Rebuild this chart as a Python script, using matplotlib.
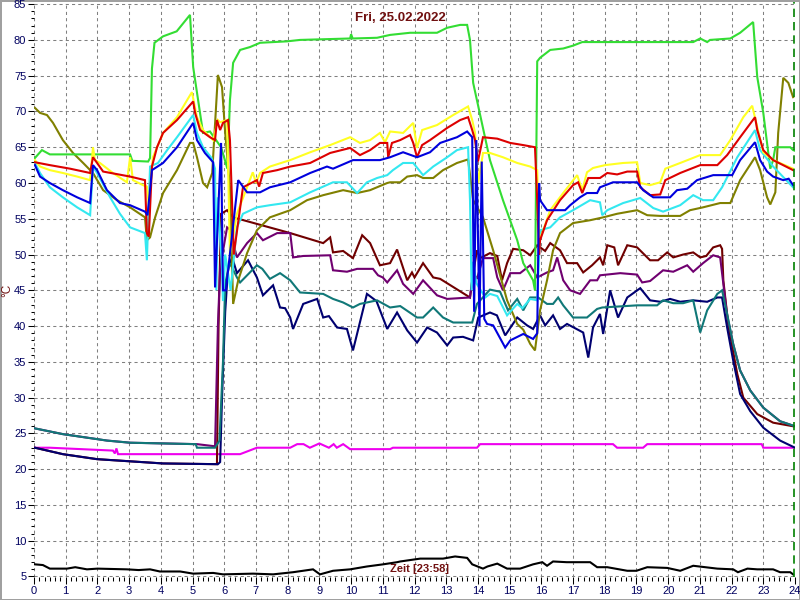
import matplotlib
matplotlib.use('Agg')
import matplotlib.pyplot as plt
from matplotlib.ticker import MultipleLocator

# Messwerte (Stunde, °C) je Fühler
green = [(0.03, 63.5), (0.25, 64.6), (0.5, 64.0), (3.03, 64.0), (3.1, 63.1), (3.6, 63.0), (3.66, 63.5),
         (3.72, 76.0), (3.8, 79.6), (4.07, 80.5), (4.5, 81.2), (4.92, 83.5), (5.02, 76.2), (5.3, 67.9),
         (5.33, 67.0), (5.55, 67.2), (5.9, 65.0), (6.1, 62.0), (6.18, 71.6), (6.28, 76.8), (6.5, 78.6),
         (6.81, 79.0), (7.13, 79.6), (7.98, 79.8), (8.39, 80.0), (9.97, 80.2), (10.0, 80.8), (10.05, 80.2),
         (10.82, 80.3), (11.23, 80.7), (11.86, 81.0), (12.18, 81.0), (12.71, 81.0), (13.03, 81.7),
         (13.44, 82.1), (13.66, 82.1), (13.75, 80.0), (13.85, 74.0), (14.38, 63.2), (14.79, 57.6),
         (15.24, 52.0), (15.43, 48.8), (15.74, 46.4), (15.8, 45.0), (15.87, 77.0), (15.96, 77.5),
         (16.28, 78.6), (16.69, 78.8), (17.0, 79.2), (17.29, 79.7), (20.79, 79.7), (21.01, 80.2),
         (21.23, 79.7), (21.32, 80.0), (21.96, 80.2), (22.27, 81.0), (22.68, 82.5), (22.81, 74.8),
         (23.0, 69.8), (23.22, 62.0), (23.31, 63.2), (23.38, 65.0), (23.85, 65.0), (23.94, 64.6), (24.0, 64.5)]

yellow = [(0.03, 63.2), (0.19, 62.3), (0.5, 61.8), (0.91, 61.4), (1.36, 60.9), (1.77, 60.4), (1.86, 65.0),
          (1.92, 63.2), (2.08, 62.8), (2.49, 61.4), (2.93, 60.1), (3.03, 63.6), (3.12, 60.4), (3.44, 59.7),
          (3.56, 59.5), (3.62, 57.0), (3.75, 63.6), (4.07, 67.0), (4.51, 69.2), (4.83, 71.6), (4.98, 72.7),
          (5.14, 69.2), (5.33, 67.4), (5.65, 66.0), (5.8, 68.8), (5.87, 68.5), (6.09, 68.8), (6.18, 50.0),
          (6.4, 55.7), (6.72, 59.4), (6.9, 61.5), (7.0, 60.0), (7.13, 61.4), (7.44, 62.3), (8.08, 63.2),
          (8.71, 64.3), (9.34, 65.3), (9.97, 66.4), (10.28, 65.6), (10.6, 66.0), (10.91, 67.0), (11.07, 65.7),
          (11.23, 67.2), (11.64, 67.0), (11.96, 68.4), (12.08, 64.9), (12.24, 67.4), (12.71, 68.1),
          (13.22, 69.5), (13.69, 70.7), (13.82, 68.8), (13.91, 67.0), (14.01, 60.0), (14.16, 64.2),
          (14.38, 64.2), (14.79, 63.6), (15.24, 62.8), (15.65, 62.3), (15.87, 61.8), (15.93, 52.0),
          (16.06, 53.4), (16.28, 56.2), (16.69, 58.6), (17.13, 61.1), (17.29, 59.0), (17.44, 61.5),
          (17.63, 62.1), (18.01, 62.5), (18.58, 62.8), (19.02, 62.9), (19.12, 60.0), (19.43, 59.7),
          (19.75, 60.1), (19.91, 62.0), (20.38, 62.8), (21.01, 63.9), (21.64, 63.9), (21.96, 66.0),
          (22.37, 69.2), (22.65, 70.8), (22.81, 67.8), (23.0, 64.3), (23.31, 63.2), (23.94, 62.0)]

red = [(0.03, 62.9), (0.5, 62.5), (1.14, 62.0), (1.77, 61.4), (1.86, 63.6), (1.99, 62.8), (2.18, 61.6),
       (3.03, 60.9), (3.5, 60.4), (3.56, 53.0), (3.62, 52.5), (3.72, 62.3), (3.88, 65.0), (4.07, 67.0),
       (4.51, 68.8), (5.02, 71.4), (5.08, 69.8), (5.24, 67.4), (5.55, 66.4), (5.71, 66.0), (5.77, 68.8),
       (5.87, 67.4), (5.96, 68.4), (6.12, 68.8), (6.18, 66.0), (6.3, 50.0), (6.59, 59.4), (7.03, 60.4),
       (7.1, 59.5), (7.22, 61.4), (7.67, 61.8), (8.08, 62.3), (8.71, 62.8), (9.34, 64.2), (9.97, 64.9),
       (10.28, 63.9), (10.6, 64.6), (10.91, 65.6), (11.14, 65.6), (11.17, 63.6), (11.29, 65.6), (11.55, 66.0),
       (11.86, 66.7), (11.96, 65.6), (12.08, 63.6), (12.24, 65.3), (12.49, 66.0), (13.03, 67.7),
       (13.44, 68.8), (13.69, 69.2), (13.82, 67.4), (13.91, 66.0), (14.0, 63.0), (14.16, 66.4),
       (14.61, 66.2), (15.02, 65.6), (15.43, 65.3), (15.8, 65.0), (15.87, 57.6), (15.93, 50.0),
       (15.96, 52.0), (16.18, 54.8), (16.59, 57.6), (17.0, 59.7), (17.16, 60.1), (17.29, 58.6),
       (17.48, 60.7), (17.85, 60.7), (18.08, 61.4), (18.39, 61.2), (18.71, 61.6), (19.02, 61.6),
       (19.12, 59.4), (19.43, 58.3), (19.75, 58.4), (19.91, 60.4), (20.38, 61.4), (21.01, 62.5),
       (21.55, 62.5), (21.86, 63.9), (22.27, 66.4), (22.74, 69.2), (22.81, 67.4), (23.0, 64.6),
       (23.31, 63.2), (23.94, 61.8)]

cyan = [(0.03, 62.8), (0.19, 61.4), (0.5, 59.4), (0.91, 58.0), (1.36, 56.6), (1.77, 55.5), (1.86, 62.3),
        (1.99, 61.4), (2.4, 58.0), (2.71, 55.7), (3.03, 53.8), (3.5, 53.0), (3.56, 49.2), (3.66, 62.3),
        (3.91, 62.8), (4.2, 64.6), (4.51, 66.4), (5.02, 69.5), (5.14, 67.0), (5.33, 65.0), (5.6, 63.5),
        (5.71, 62.0), (5.75, 45.0), (5.8, 58.0), (5.93, 48.0), (5.96, 43.5), (6.03, 50.0), (6.2, 45.0),
        (6.4, 53.8), (6.59, 55.7), (7.03, 56.6), (7.44, 56.9), (8.08, 57.3), (8.71, 58.7), (9.43, 60.1),
        (9.87, 60.1), (10.19, 58.6), (10.5, 60.1), (10.82, 60.7), (11.14, 61.1), (11.32, 61.8),
        (11.64, 62.8), (11.96, 62.8), (12.27, 61.1), (12.59, 62.3), (13.03, 63.6), (13.34, 64.6),
        (13.69, 65.0), (13.75, 57.6), (13.8, 45.0), (13.85, 49.0), (13.95, 46.0), (14.23, 44.0),
        (14.38, 44.5), (14.61, 44.2), (14.92, 41.5), (15.24, 43.1), (15.4, 42.5), (15.65, 43.8),
        (15.87, 43.6), (15.96, 53.4), (16.28, 53.8), (16.59, 55.2), (17.0, 56.2), (17.54, 57.6),
        (17.85, 57.3), (17.92, 55.5), (18.08, 56.2), (18.58, 57.2), (19.12, 57.9), (19.53, 56.5),
        (19.84, 56.0), (20.38, 56.9), (20.79, 58.3), (21.1, 57.6), (21.42, 57.6), (21.7, 59.4),
        (22.18, 63.6), (22.74, 67.4), (22.9, 64.6), (23.31, 62.3), (23.94, 59.4)]

blue = [(0.03, 62.5), (0.19, 60.9), (0.5, 60.0), (0.91, 59.0), (1.36, 58.0), (1.77, 57.2), (1.86, 62.5),
        (1.99, 61.8), (2.3, 59.0), (2.71, 57.2), (3.03, 56.9), (3.5, 56.0), (3.58, 55.5), (3.72, 61.8),
        (4.07, 62.8), (4.51, 65.0), (5.02, 68.4), (5.14, 66.0), (5.39, 64.2), (5.65, 62.9), (5.71, 45.4),
        (5.8, 55.0), (5.9, 65.6), (5.96, 45.0), (6.05, 45.0), (6.44, 60.4), (6.72, 58.7), (7.13, 58.7),
        (7.44, 59.4), (8.08, 60.1), (8.71, 61.4), (9.24, 62.3), (9.43, 62.0), (10.06, 63.2), (10.91, 63.2),
        (11.23, 63.6), (11.64, 64.3), (12.08, 63.6), (12.49, 64.3), (12.81, 65.6), (13.34, 66.4),
        (13.66, 67.2), (13.82, 66.4), (13.88, 42.0), (13.95, 66.0), (14.05, 40.0), (14.12, 63.0),
        (14.2, 41.0), (14.29, 40.3), (14.48, 40.1), (14.86, 37.0), (15.02, 38.0), (15.43, 38.9),
        (15.74, 38.2), (15.87, 39.0), (15.93, 60.0), (15.96, 57.6), (16.18, 56.2), (16.5, 56.2),
        (16.75, 56.2), (16.91, 56.9), (17.22, 58.0), (17.44, 58.6), (17.76, 58.6), (17.85, 59.4),
        (18.26, 60.1), (19.02, 60.1), (19.21, 59.0), (19.53, 58.0), (20.06, 58.0), (20.28, 59.0),
        (20.6, 59.2), (20.91, 60.4), (21.42, 61.1), (22.02, 61.1), (22.27, 63.2), (22.74, 65.7),
        (22.9, 63.2), (23.12, 61.6), (23.31, 60.9), (23.63, 60.4), (23.8, 60.6), (23.94, 59.7)]

olive = [(0.03, 70.5), (0.19, 69.8), (0.41, 69.5), (0.6, 68.4), (0.91, 66.0), (1.23, 64.2), (1.55, 62.8),
         (1.86, 61.4), (2.18, 59.0), (2.62, 57.6), (3.03, 56.6), (3.5, 55.2), (3.56, 52.0), (3.66, 52.4),
         (3.82, 55.2), (4.07, 58.6), (4.51, 61.8), (4.92, 65.6), (5.02, 65.6), (5.14, 63.6), (5.33, 60.0),
         (5.46, 59.4), (5.62, 61.4), (5.8, 75.1), (5.93, 73.4), (6.03, 67.0), (6.18, 59.4), (6.28, 43.1),
         (6.44, 46.4), (6.72, 50.2), (7.03, 53.4), (7.44, 55.2), (7.76, 55.7), (8.08, 56.2), (8.61, 57.6),
         (9.12, 58.3), (9.75, 59.0), (10.19, 58.6), (10.6, 59.0), (11.14, 60.0), (11.23, 60.1),
         (11.55, 60.1), (11.77, 60.9), (12.08, 61.1), (12.27, 60.7), (12.59, 60.7), (12.9, 61.8),
         (13.34, 62.8), (13.69, 63.3), (13.85, 57.6), (14.16, 55.2), (14.48, 50.6), (14.92, 43.6),
         (15.24, 40.3), (15.43, 39.5), (15.65, 37.5), (15.8, 36.6), (15.96, 42.2), (16.18, 46.4),
         (16.37, 50.6), (16.59, 53.0), (17.0, 54.4), (17.54, 54.8), (17.95, 55.2), (18.39, 55.7),
         (19.02, 56.2), (19.34, 55.5), (19.75, 55.4), (20.38, 55.4), (20.69, 56.2), (21.1, 56.6),
         (21.64, 57.2), (21.96, 57.2), (22.27, 60.4), (22.74, 63.6), (22.9, 61.8), (23.12, 58.0),
         (23.22, 57.0), (23.38, 58.7), (23.47, 67.0), (23.63, 74.7), (23.79, 74.0), (23.94, 72.0)]

maroon = [(0.03, 23.0), (0.91, 22.1), (1.99, 21.4), (3.03, 21.1), (4.07, 20.8), (5.77, 20.7), (5.82, 40.0),
          (5.9, 55.7), (6.09, 56.2), (6.28, 55.2), (8.08, 53.0), (9.12, 51.6), (9.34, 52.4), (9.43, 50.3),
          (9.75, 50.5), (10.06, 49.5), (10.35, 52.7), (10.6, 51.6), (10.91, 48.5), (11.23, 48.8),
          (11.45, 50.7), (11.77, 46.4), (11.92, 47.5), (12.0, 46.8), (12.27, 48.8), (12.59, 46.8),
          (12.81, 46.6), (13.75, 44.0), (13.85, 47.4), (13.97, 50.6), (14.07, 49.5), (14.38, 50.2),
          (14.61, 49.8), (14.76, 46.4), (14.92, 48.8), (15.11, 50.8), (15.43, 50.6), (15.65, 49.9),
          (15.87, 51.3), (16.12, 50.5), (16.28, 51.6), (16.59, 50.6), (16.81, 48.8), (17.13, 48.8),
          (17.32, 47.5), (17.6, 48.5), (17.85, 49.6), (17.95, 48.5), (18.08, 51.3), (18.3, 51.0),
          (18.42, 48.5), (18.71, 51.3), (19.02, 51.0), (19.43, 49.2), (19.68, 49.2), (19.97, 50.3),
          (20.16, 49.6), (20.47, 50.0), (20.79, 50.3), (21.01, 49.6), (21.2, 49.8), (21.42, 51.0),
          (21.64, 51.3), (21.7, 50.8), (21.74, 46.4), (21.9, 40.0), (22.18, 33.3), (22.37, 30.0),
          (22.81, 27.7), (23.31, 26.5), (23.94, 26.0)]

purple = [(0.03, 25.7), (0.91, 24.9), (2.3, 24.0), (3.03, 23.7), (5.14, 23.5), (5.71, 23.2), (5.8, 40.0),
          (5.87, 48.2), (6.09, 53.8), (6.18, 53.5), (6.28, 51.6), (6.4, 49.6), (6.72, 51.6), (7.03, 53.0),
          (7.22, 52.0), (7.67, 53.0), (8.08, 53.0), (8.17, 49.6), (8.49, 49.8), (9.34, 49.9), (9.43, 47.8),
          (9.87, 47.6), (10.19, 48.0), (10.69, 48.0), (10.85, 47.1), (11.0, 46.8), (11.14, 46.1),
          (11.45, 47.8), (11.64, 45.9), (11.96, 44.5), (12.27, 46.4), (12.71, 44.3), (13.03, 43.8),
          (13.75, 44.0), (13.85, 47.4), (13.97, 46.6), (14.16, 49.5), (14.48, 49.5), (14.61, 46.8),
          (14.79, 45.0), (15.02, 47.4), (15.33, 47.4), (15.65, 48.5), (15.87, 46.8), (16.18, 47.5),
          (16.37, 47.8), (16.5, 49.6), (16.69, 46.4), (16.91, 45.0), (17.22, 44.5), (17.54, 46.4),
          (17.76, 46.4), (17.85, 47.1), (18.49, 47.4), (19.02, 47.2), (19.18, 46.1), (19.43, 46.3),
          (19.84, 47.8), (20.16, 47.6), (20.6, 48.5), (20.79, 47.6), (21.1, 48.8), (21.42, 49.9),
          (21.64, 49.6), (21.74, 45.9), (21.86, 41.5), (22.05, 37.5), (22.27, 33.8), (22.59, 31.0),
          (23.0, 28.6), (23.53, 26.7), (24.0, 26.0)]

teal = [(0.03, 25.7), (0.91, 24.9), (2.3, 24.0), (3.03, 23.7), (5.1, 23.5), (5.14, 23.0), (5.71, 23.0),
        (5.85, 24.0), (5.96, 35.0), (6.03, 46.0), (6.18, 48.8), (6.4, 46.8), (6.5, 46.1), (7.03, 48.5),
        (7.2, 48.0), (7.44, 46.6), (7.76, 47.4), (8.08, 46.4), (8.39, 44.7), (9.12, 44.5), (9.43, 43.8),
        (9.75, 43.3), (10.06, 42.6), (10.28, 43.1), (10.82, 43.6), (11.23, 42.6), (11.55, 42.8),
        (12.08, 41.2), (12.27, 41.2), (12.59, 42.6), (12.9, 41.2), (13.22, 40.5), (13.82, 40.5),
        (13.97, 43.1), (14.38, 45.1), (14.7, 44.8), (14.95, 42.2), (15.24, 43.8), (15.43, 42.2),
        (15.65, 44.0), (15.9, 44.0), (16.18, 43.1), (16.37, 43.1), (16.53, 44.0), (16.69, 42.9),
        (17.0, 41.2), (17.44, 41.2), (17.76, 42.4), (17.92, 42.6), (19.02, 42.9), (19.65, 42.9),
        (19.84, 43.6), (20.16, 43.2), (20.47, 43.2), (20.79, 43.6), (21.01, 39.1), (21.23, 42.2),
        (21.55, 44.5), (21.7, 45.0), (21.86, 41.7), (22.05, 37.5), (22.27, 33.8), (22.59, 31.0),
        (23.0, 28.6), (23.53, 26.7), (24.0, 26.0)]

navy = [(0.03, 23.0), (0.91, 22.1), (1.99, 21.4), (3.03, 21.1), (4.07, 20.8), (5.8, 20.7), (5.87, 21.0),
        (5.93, 30.0), (6.03, 42.0), (6.12, 48.2), (6.25, 49.6), (6.4, 47.4), (6.75, 49.2), (7.03, 46.8),
        (7.22, 44.3), (7.54, 45.7), (7.76, 42.6), (7.92, 42.5), (8.08, 41.2), (8.17, 39.6), (8.49, 43.1),
        (8.93, 43.8), (9.12, 41.2), (9.3, 41.4), (9.56, 39.8), (9.87, 39.6), (10.06, 36.6), (10.5, 44.5),
        (10.8, 43.5), (11.14, 39.6), (11.45, 41.9), (11.77, 39.4), (12.08, 37.7), (12.4, 39.8),
        (12.71, 39.1), (13.03, 37.3), (13.22, 38.4), (13.53, 38.5), (13.85, 38.0), (14.01, 41.2),
        (14.38, 41.9), (14.6, 41.5), (14.86, 38.7), (15.24, 41.2), (15.55, 40.1), (15.74, 39.6),
        (15.96, 41.5), (16.12, 40.1), (16.37, 41.5), (16.59, 39.6), (16.81, 40.3), (17.32, 39.1),
        (17.48, 35.6), (17.63, 39.8), (17.85, 41.7), (17.95, 38.9), (18.17, 45.0), (18.42, 41.2),
        (18.71, 44.0), (19.12, 45.3), (19.43, 43.6), (19.75, 43.4), (20.06, 43.8), (20.38, 43.4),
        (20.79, 43.6), (21.23, 43.4), (21.55, 44.0), (21.7, 44.0), (21.86, 39.8), (22.05, 35.2),
        (22.27, 30.5), (22.59, 28.1), (23.0, 25.8), (23.53, 24.0), (24.0, 23.0)]

magenta = [(0.03, 23.0), (0.5, 23.0), (2.49, 22.6), (2.55, 22.2), (2.6, 22.9), (2.65, 22.1), (6.5, 22.1),
           (7.03, 23.0), (8.08, 23.0), (8.3, 23.5), (8.5, 23.5), (8.7, 23.0), (9.0, 23.6), (9.3, 23.0),
           (9.45, 23.5), (9.55, 23.0), (9.75, 23.5), (9.97, 22.8), (11.23, 22.8), (11.32, 23.0),
           (13.97, 23.0), (14.07, 23.5), (18.26, 23.5), (18.39, 23.0), (19.21, 23.0), (19.34, 23.5),
           (22.95, 23.5), (23.0, 23.0), (24.0, 23.0)]

black = [(0.03, 6.7), (0.28, 6.6), (0.5, 6.1), (1.04, 6.1), (1.3, 6.3), (1.67, 6.0), (2.0, 6.1), (2.93, 6.0),
         (3.3, 5.9), (3.66, 6.0), (3.97, 5.7), (4.61, 5.7), (5.02, 5.4), (5.65, 5.5), (5.96, 5.3), (6.91, 5.4),
         (7.54, 5.3), (8.17, 5.6), (8.8, 6.0), (9.02, 5.3), (9.43, 5.8), (9.97, 6.0), (10.5, 6.4), (11.01, 6.7),
         (11.45, 7.0), (11.55, 7.1), (12.18, 7.5), (12.9, 7.5), (13.28, 7.8), (13.66, 7.6), (13.82, 6.7),
         (14.16, 6.1), (14.3, 6.4), (14.61, 6.8), (14.92, 6.1), (15.33, 6.1), (15.74, 6.7), (16.03, 7.0),
         (16.18, 6.5), (16.37, 7.1), (16.8, 7.0), (17.0, 7.0), (17.54, 7.0), (17.76, 6.3), (18.08, 6.3),
         (18.71, 5.8), (19.0, 5.8), (19.34, 6.3), (19.97, 6.2), (20.38, 5.8), (20.79, 6.5), (21.55, 6.1),
         (22.05, 6.0), (22.2, 5.6), (22.5, 6.1), (22.81, 6.0), (23.31, 6.0), (23.53, 5.6), (23.85, 5.6),
         (23.94, 5.3)]

titel = 'Fri, 25.02.2022'
zeit = 'Zeit [23:58]'

plt.rcParams['font.family'] = ['Liberation Sans', 'DejaVu Sans']

fig = plt.figure(figsize=(8, 6), dpi=100)
fig.patch.set_edgecolor('#a0a0a0')
fig.patch.set_linewidth(2)
ax = fig.add_axes([34 / 800, 1 - 577 / 600, 761 / 800, 575 / 600])

# Reihenfolge: unten zuerst
serien = [
    (black, 'black'), (magenta, '#ee00ee'), (maroon, '#700000'), (purple, '#700070'),
    (navy, '#000070'), (teal, '#107878'), (olive, '#808000'), (green, '#33dd33'),
    (cyan, '#33e8f0'), (yellow, '#ffff22'), (red, '#dd0000'), (blue, '#0000dd'),
]
for daten, farbe in serien:
    t, v = zip(*daten)
    ax.plot(t, v, color=farbe, linewidth=1.5, solid_joinstyle='miter')

ax.axvline(23.97, color='#008000', linewidth=1.2, linestyle=(0, (5, 3)))

ax.set_xlim(0, 24)
ax.set_ylim(4.93, 85.3)
ax.xaxis.set_major_locator(MultipleLocator(1))
ax.xaxis.set_minor_locator(MultipleLocator(1 / 6))
ax.yaxis.set_major_locator(MultipleLocator(5))
ax.yaxis.set_minor_locator(MultipleLocator(1))
ax.set_yticks(range(5, 90, 5))

for s in ax.spines.values():
    s.set_visible(False)

ax.tick_params(axis='y', which='major', length=4.5, width=0.75, direction='out', pad=1,
               labelsize=8, labelcolor='#000060', color='black')
ax.tick_params(axis='y', which='minor', length=2.5, width=0.75, direction='out', color='black')
ax.tick_params(axis='x', which='major', length=5, width=0.75, direction='out', pad=1.5,
               labelsize=8, labelcolor='#000060', color='black')
ax.tick_params(axis='x', which='minor', length=3, width=0.75, direction='out', color='black')

ax.grid(which='major', color='#808080', linestyle=(0, (3, 3)), linewidth=0.75)
ax.set_axisbelow(True)

fig.text(0.5, 1 - 18 / 600, titel, ha='center', va='center',
         fontsize=9.5, fontweight='bold', color='#701010')
fig.text(419 / 800, 1 - 569 / 600, zeit, ha='center', va='center',
         fontsize=8, fontweight='bold', color='#701010')
fig.text(7 / 800, 1 - 290 / 600, '°C', rotation=90, ha='center', va='center',
         fontsize=8.5, color='#701010')

plt.savefig('out.png', dpi=100)
plt.close()
